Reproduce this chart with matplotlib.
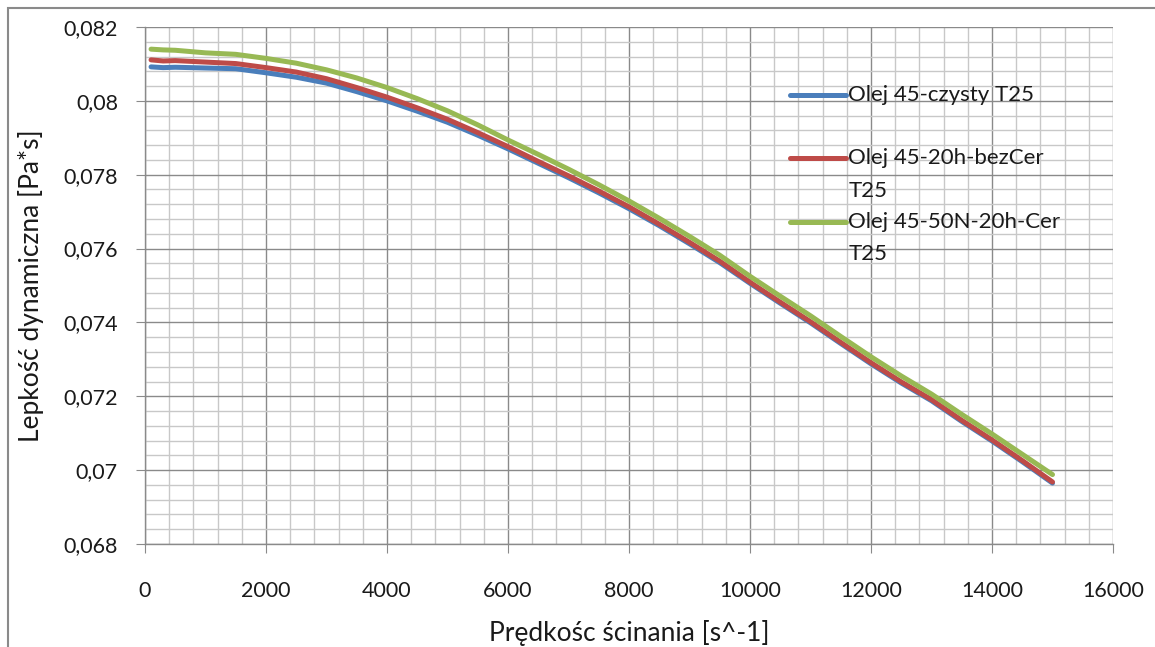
import matplotlib
matplotlib.use("Agg")
import matplotlib.pyplot as plt
from matplotlib.ticker import MultipleLocator, FuncFormatter
from matplotlib.legend_handler import HandlerLine2D
from matplotlib.patches import Rectangle

plt.rcParams['font.family'] = ['Lato', 'DejaVu Sans']

# predkosc scinania [s^-1]
shear = [100, 300, 500, 1000, 1500, 2000, 2500, 3000, 3500, 4000, 4500, 5000,
         5500, 6000, 6500, 7000, 7500, 8000, 8500, 9000, 9500, 10000, 10500,
         11000, 11500, 12000, 12500, 13000, 13500, 14000, 14500, 15000]

czysty = [0.08092, 0.08090, 0.08091, 0.08089, 0.08087, 0.08076, 0.08064, 0.08048,
          0.08025, 0.08000, 0.07972, 0.07942, 0.07907, 0.07870, 0.07831, 0.07792,
          0.07751, 0.07708, 0.07662, 0.07613, 0.07562, 0.07506, 0.07452, 0.07399,
          0.07343, 0.07288, 0.07236, 0.07188, 0.07132, 0.07079, 0.07023, 0.06965]

bez_cer = [0.08111, 0.08108, 0.08109, 0.08105, 0.08101, 0.08090, 0.08078, 0.08060,
           0.08036, 0.08010, 0.07981, 0.07950, 0.07914, 0.07876, 0.07836, 0.07797,
           0.07756, 0.07713, 0.07666, 0.07617, 0.07566, 0.07509, 0.07455, 0.07402,
           0.07346, 0.07291, 0.07239, 0.07191, 0.07135, 0.07082, 0.07026, 0.06968]

cer = [0.08140, 0.08138, 0.08137, 0.08130, 0.08126, 0.08115, 0.08102, 0.08084,
       0.08062, 0.08036, 0.08006, 0.07973, 0.07935, 0.07894, 0.07855, 0.07815,
       0.07773, 0.07729, 0.07682, 0.07633, 0.07582, 0.07525, 0.07471, 0.07418,
       0.07362, 0.07307, 0.07255, 0.07206, 0.07151, 0.07098, 0.07043, 0.06988]

labels = ["Olej 45-czysty T25\n", "Olej 45-20h-bezCer\nT25", "Olej 45-50N-20h-Cer\nT25"]
colors = ["#4A7EBB", "#BE4B48", "#98B954"]


class TopLine(HandlerLine2D):
    # excel puts the legend line next to the first text line
    def create_artists(self, legend, orig_handle, xdescent, ydescent, width, height, fontsize, trans):
        arts = super().create_artists(legend, orig_handle, xdescent, ydescent, width, height, fontsize, trans)
        for a in arts:
            y = a.get_ydata()
            a.set_ydata([v + fontsize * 0.74 for v in y])
        return arts


fig = plt.figure(figsize=(11.55, 6.47), dpi=100)
ax = fig.add_axes([145/1155, 1 - 544/647, (1113-145)/1155, (544-27)/647])

lines = []
for y, c, lab in zip([czysty, bez_cer, cer], colors, labels):
    l, = ax.plot(shear, y, color=c, lw=3.6, label=lab, solid_capstyle='round')
    lines.append(l)

ax.set_xlim(0, 16000)
ax.set_ylim(0.068, 0.082)
ax.xaxis.set_major_locator(MultipleLocator(2000))
ax.xaxis.set_minor_locator(MultipleLocator(400))
ax.yaxis.set_major_locator(MultipleLocator(0.002))
ax.yaxis.set_minor_locator(MultipleLocator(0.0004))
ax.yaxis.set_major_formatter(FuncFormatter(lambda v, p: ('%g' % round(v, 4)).replace('.', ',')))

ax.grid(True, which='major', color='#8a8a8a', lw=1.0)
ax.grid(True, which='minor', color='#c8c8c8', lw=1.0)
ax.set_axisbelow(True)
for s in ['top', 'right']:
    ax.spines[s].set_visible(False)
for s in ['left', 'bottom']:
    ax.spines[s].set_color('#8a8a8a')
    ax.spines[s].set_linewidth(1.0)

ax.tick_params(which='major', length=6.5, color='#8a8a8a', labelsize=15.5, labelcolor='#1a1a1a')
ax.tick_params(axis='x', which='major', pad=20)
ax.tick_params(axis='y', which='major', pad=13)
ax.tick_params(which='minor', length=0)

ax.set_xlabel("Prędkośc ścinania [s^-1]", fontsize=19, color='#1a1a1a', labelpad=14)
ax.set_ylabel("Lepkość dynamiczna [Pa*s]", fontsize=19, color='#1a1a1a', labelpad=14)

leg = ax.legend(handles=lines, loc='upper left',
                bbox_to_anchor=(790/1155, 1 - 85/647), bbox_transform=fig.transFigure,
                frameon=False, fontsize=16, handlelength=2.5, handletextpad=0.12,
                labelspacing=0.5, borderpad=0, borderaxespad=0,
                handler_map={l: TopLine() for l in lines})
for t in leg.get_texts():
    t.set_color('#1a1a1a')
    t.set_linespacing(1.77)

fig.add_artist(Rectangle((8/1155, -0.2), 1.3, 1.2 - 8/647, transform=fig.transFigure,
                         fill=False, ec='#8a8a8a', lw=1.5))

fig.savefig("out.png", dpi=100)
